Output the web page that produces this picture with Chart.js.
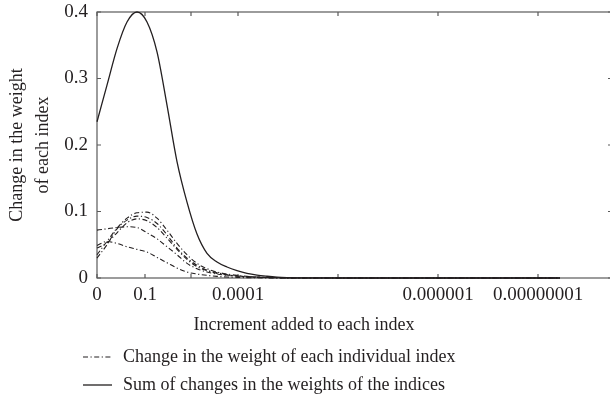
<!DOCTYPE html>
<html>
<head>
<meta charset="utf-8">
<script src="https://cdn.jsdelivr.net/npm/chart.js@4"></script>
<style>
  html, body { margin: 0; padding: 0; background: #fff; overflow: hidden; }
  #wrap { width: 612px; height: 402px; }
</style>
</head>
<body>
<div id="wrap"><canvas id="chart" width="612" height="402"></canvas></div>
<script>
// sample positions along the increment axis
const xs = [0, 0.2, 0.4, 0.6, 0.8, 1, 1.2, 1.4, 1.6, 1.8, 2, 2.2, 2.4, 2.6, 2.8, 3,
            3.2, 3.4, 3.6, 3.8, 4, 5, 6, 7, 8, 9.26];

// change in weight of each individual index
const idxA = [0.049, 0.055, 0.052, 0.047, 0.043, 0.039, 0.031, 0.023, 0.015, 0.009, 0.006, 0.004, 0.0025,
              0.0015, 0.001, 0.0005, 0.0003, 0.0002, 0.0001, 0, 0, 0, 0, 0, 0, 0];
const idxB = [0.072, 0.074, 0.076, 0.077, 0.076, 0.068, 0.059, 0.047, 0.035, 0.022, 0.014, 0.009, 0.006,
              0.004, 0.003, 0.002, 0.0012, 0.0008, 0.0004, 0.0002, 0, 0, 0, 0, 0, 0];
const idxC = [0.035, 0.055, 0.075, 0.09, 0.098, 0.099, 0.09, 0.072, 0.052, 0.035, 0.022, 0.014, 0.009,
              0.006, 0.004, 0.0025, 0.0015, 0.001, 0.0005, 0.0002, 0, 0, 0, 0, 0, 0];
const idxD = [0.03, 0.05, 0.074, 0.087, 0.093, 0.091, 0.082, 0.065, 0.045, 0.03, 0.019, 0.012, 0.008,
              0.005, 0.003, 0.002, 0.0012, 0.0007, 0.0004, 0.0002, 0, 0, 0, 0, 0, 0];
const idxE = [0.045, 0.053, 0.068, 0.083, 0.089, 0.086, 0.076, 0.06, 0.043, 0.028, 0.017, 0.011, 0.007,
              0.0045, 0.003, 0.0018, 0.001, 0.0006, 0.0003, 0.0001, 0, 0, 0, 0, 0, 0];

// sum of the changes
const sumAll = [0.235, 0.29, 0.345, 0.385, 0.4, 0.385, 0.34, 0.26, 0.175, 0.114, 0.066, 0.037, 0.024,
                0.0165, 0.011, 0.0068, 0.0042, 0.0026, 0.0014, 0.0007, 0.0003, 0, 0, 0, 0, 0];

const xTicks = [0, 0.96, 1.88, 2.82, 4.82, 6.82, 8.82];
const xTickLabels = ['0', '0.1', '', '0.0001', '', '0.000001', '0.00000001'];
const yTicks = [0, 0.1, 0.2, 0.3, 0.4];

const labelDash = 'Change in the weight of each individual index';
const labelSum = 'Sum of changes in the weights of the indices';
const xTitle = 'Increment added to each index';

const ink = '#231f20';
const serif = '"Liberation Serif", "DejaVu Serif", serif';
const dashDot = [5, 2.5, 1.2, 2.5];

function pts(vals) {
    return xs.map((x, i) => ({ x: x, y: vals[i] }));
}

function dashSet(vals) {
    return {
        label: labelDash, data: pts(vals), borderColor: ink, borderWidth: 1.1,
        borderDash: dashDot, pointRadius: 0, cubicInterpolationMode: 'monotone', clip: 4
    };
}

// box round the plot with short inward ticks on all four sides
const frameTicks = {
    id: 'frameTicks',
    beforeDatasetsDraw(chart) {
        const { ctx, chartArea: a, scales: { x, y } } = chart;
        ctx.save();
        ctx.strokeStyle = '#5a5a5a';
        ctx.lineWidth = 1.2;
        ctx.strokeRect(a.left, a.top, a.right - a.left, a.bottom - a.top);
        ctx.beginPath();
        x.ticks.forEach(t => {
            const px = x.getPixelForValue(t.value);
            ctx.moveTo(px, a.bottom); ctx.lineTo(px, a.bottom - 4);
            ctx.moveTo(px, a.top); ctx.lineTo(px, a.top + 4);
        });
        y.ticks.forEach(t => {
            const py = y.getPixelForValue(t.value);
            ctx.moveTo(a.left, py); ctx.lineTo(a.left + 4, py);
            ctx.moveTo(a.right, py); ctx.lineTo(a.right - 4, py);
        });
        ctx.stroke();
        ctx.restore();
    }
};

// x title and the two legend rows under the plot
const bottomText = {
    id: 'bottomText',
    afterDraw(chart) {
        const ctx = chart.ctx;
        ctx.save();
        ctx.font = '18px ' + serif;
        ctx.fillStyle = ink;
        ctx.textBaseline = 'middle';
        ctx.textAlign = 'center';
        ctx.fillText(xTitle, 304, 325);

        ctx.textAlign = 'left';
        const seen = [];
        chart.data.datasets.forEach(ds => {
            if (seen.indexOf(ds.label) >= 0) return;
            seen.push(ds.label);
            const rowY = 357 + (seen.length - 1) * 28;
            ctx.strokeStyle = ink;
            ctx.lineWidth = ds.borderWidth;
            ctx.setLineDash(ds.borderDash || []);
            ctx.beginPath();
            ctx.moveTo(83, rowY);
            ctx.lineTo(112, rowY);
            ctx.stroke();
            ctx.setLineDash([]);
            ctx.fillText(ds.label, 123, rowY);
        });
        ctx.restore();
    }
};

new Chart(document.getElementById('chart'), {
    type: 'line',
    data: {
        datasets: [
            dashSet(idxA), dashSet(idxB), dashSet(idxC), dashSet(idxD), dashSet(idxE),
            {
                label: labelSum, data: pts(sumAll), borderColor: ink, borderWidth: 1.3,
                pointRadius: 0, cubicInterpolationMode: 'monotone', clip: 4
            }
        ]
    },
    options: {
        responsive: false,
        devicePixelRatio: 1,
        animation: false,
        layout: { padding: { top: 12, left: 0, right: 0, bottom: 0 } },
        plugins: { legend: { display: false }, tooltip: { enabled: false } },
        scales: {
            x: {
                type: 'linear', min: 0, max: 10.3,
                afterBuildTicks: s => { s.ticks = xTicks.map(v => ({ value: v })); },
                afterFit: s => { s.height = 124; s.paddingLeft = 0; s.paddingRight = 0; },
                grid: { display: false, drawTicks: false },
                border: { display: false },
                ticks: {
                    autoSkip: false, maxRotation: 0, padding: 6, color: ink,
                    font: { family: serif, size: 19 },
                    callback: (v, i) => xTickLabels[i]
                }
            },
            y: {
                min: 0, max: 0.4,
                afterBuildTicks: s => { s.ticks = yTicks.map(v => ({ value: v })); },
                afterFit: s => { s.width = 97; s.paddingTop = 0; s.paddingBottom = 0; },
                grid: { display: false, drawTicks: false },
                border: { display: false },
                ticks: {
                    padding: 9, color: ink,
                    font: { family: serif, size: 19 },
                    callback: v => String(v)
                },
                title: {
                    display: true, text: ['Change in the weight', 'of each index'], color: ink,
                    font: { family: serif, size: 18, lineHeight: 1.4 },
                    padding: { top: 5, bottom: 0 }
                }
            }
        }
    },
    plugins: [frameTicks, bottomText]
});
</script>
</body>
</html>
